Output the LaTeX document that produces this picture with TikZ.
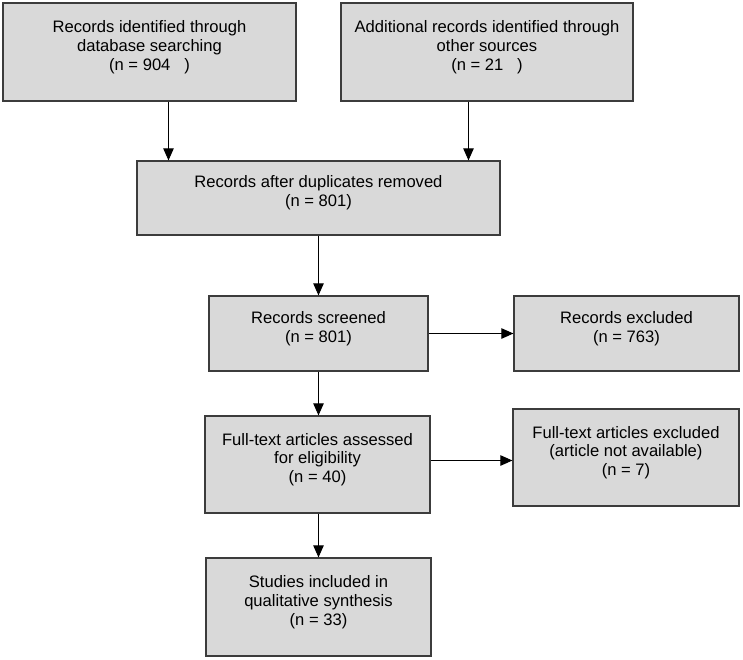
\documentclass[tikz,border=0pt]{standalone}
\usepackage{fontspec}
\setmainfont{Liberation Sans}
\usepackage{tikz}
\usetikzlibrary{arrows.meta,positioning,calc}
\usepackage{xcolor}
\definecolor{boxfill}{RGB}{217,217,217}
\definecolor{boxline}{RGB}{60,60,60}

\tikzset{
    box/.style={draw=boxline, fill=boxfill, line width=0.8pt, align=center, inner sep=0pt,
        font=\fontsize{11.8}{13.4}\selectfont, execute at end node={\rule[-0.33cm]{0pt}{0pt}}},
    arr/.style={-{Triangle[length=0.3cm,width=0.26cm]}, line width=0.7pt}
}

\begin{document}
\begin{tikzpicture}
\useasboundingbox (0,0) rectangle (18.575,-16.5);
% identification
\node[box, minimum width=7.325cm, minimum height=2.45cm] (db) at (3.7375,-1.3)
    {Records identified through\\database searching\\(n = 904~~~)};
\node[box, minimum width=7.3cm, minimum height=2.45cm] (other) at (12.175,-1.3)
    {Additional records identified through\\other sources\\(n = 21~~~)};
% screening
\node[box, minimum width=9.075cm, minimum height=1.85cm] (dup) at (7.9625,-4.95)
    {Records after duplicates removed\\(n = 801)};
\node[box, minimum width=5.475cm, minimum height=1.875cm] (screen) at (7.9625,-8.3375)
    {Records screened\\(n = 801)};
\node[box, minimum width=5.625cm, minimum height=1.875cm] (excl) at (15.6625,-8.3375)
    {Records excluded\\(n = 763)};
% eligibility
\node[box, minimum width=5.625cm, minimum height=2.425cm] (full) at (7.9375,-11.6125)
    {Full-text articles assessed\\for eligibility\\(n = 40)};
\node[box, minimum width=5.65cm, minimum height=2.425cm] (fullexcl) at (15.65,-11.4375)
    {Full-text articles excluded\\(article not available)\\(n = 7)};
% included
\node[box, minimum width=5.625cm, minimum height=2.45cm] (incl) at (7.9625,-15.175)
    {Studies included in\\qualitative synthesis\\(n = 33)};

\coordinate (in1) at ([xshift=-3.75cm]dup.north);
\coordinate (in2) at ([xshift=3.75cm]dup.north);
\draw[arr] (db.south -| in1) -- (in1);
\draw[arr] (other.south -| in2) -- (in2);
\draw[arr] (dup.south) -- (screen.north);
\draw[arr] (screen.east) -- (excl.west);
\draw[arr] (screen.south) -- (screen.south |- full.north);
\coordinate (out6) at ([yshift=0.1cm]full.east);
\draw[arr] (out6) -- (out6 -| fullexcl.west);
\draw[arr] (incl.north |- full.south) -- (incl.north);
\end{tikzpicture}
\end{document}
